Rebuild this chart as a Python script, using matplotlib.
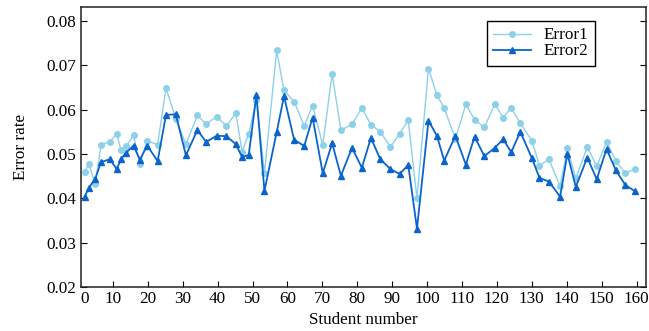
import matplotlib
matplotlib.use('Agg')
import matplotlib.pyplot as plt

# student positions along the x axis
student = [1.9, 3.1, 4.9, 6.6, 9.1, 11.1, 12.3, 13.8, 15.9, 17.7,
           19.8, 22.8, 25.2, 28.0, 30.9, 34.2, 36.7, 39.7, 42.5, 45.2,
           47.0, 48.9, 51.1, 53.4, 56.9, 59.0, 61.9, 64.8, 67.2, 70.1,
           72.8, 75.3, 78.5, 81.3, 83.9, 86.6, 89.5, 92.1, 94.6, 97.1,
           100.4, 102.8, 104.9, 108.1, 111.1, 113.6, 116.4, 119.4, 121.8, 124.1,
           126.7, 130.0, 132.2, 134.9, 138.1, 140.2, 142.6, 145.9, 148.6, 151.4,
           154.1, 156.8, 159.6]

error1 = [0.0460, 0.0477, 0.0433, 0.0520, 0.0528, 0.0545, 0.0508, 0.0517, 0.0542, 0.0478,
          0.0530, 0.0521, 0.0648, 0.0579, 0.0522, 0.0587, 0.0567, 0.0584, 0.0563, 0.0592,
          0.0505, 0.0545, 0.0621, 0.0457, 0.0733, 0.0643, 0.0618, 0.0563, 0.0609, 0.0520,
          0.0680, 0.0553, 0.0567, 0.0603, 0.0566, 0.0550, 0.0516, 0.0545, 0.0576, 0.0400,
          0.0692, 0.0633, 0.0603, 0.0534, 0.0612, 0.0577, 0.0560, 0.0612, 0.0582, 0.0604,
          0.0569, 0.0530, 0.0474, 0.0488, 0.0428, 0.0513, 0.0445, 0.0516, 0.0472, 0.0527,
          0.0484, 0.0457, 0.0466]

error2 = [0.0404, 0.0424, 0.0444, 0.0482, 0.0488, 0.0466, 0.0489, 0.0503, 0.0519, 0.0487,
          0.0519, 0.0484, 0.0588, 0.0589, 0.0497, 0.0554, 0.0527, 0.0541, 0.0540, 0.0522,
          0.0493, 0.0498, 0.0633, 0.0417, 0.0549, 0.0630, 0.0532, 0.0518, 0.0582, 0.0457,
          0.0524, 0.0451, 0.0514, 0.0469, 0.0536, 0.0488, 0.0466, 0.0455, 0.0475, 0.0332,
          0.0575, 0.0541, 0.0485, 0.0541, 0.0476, 0.0539, 0.0495, 0.0514, 0.0533, 0.0504,
          0.0550, 0.0491, 0.0446, 0.0438, 0.0404, 0.0500, 0.0426, 0.0492, 0.0443, 0.0511,
          0.0463, 0.0430, 0.0416]

xtick_pos = [1.95, 10, 20, 30, 40, 50, 60, 70, 80, 90, 100, 110, 120, 130, 140, 150, 160]
xtick_lab = ['0', '10', '20', '30', '40', '50', '60', '70', '80', '90',
             '100', '110', '120', '130', '140', '150', '160']
yticks = [0.02, 0.03, 0.04, 0.05, 0.06, 0.07, 0.08]

plt.rcParams['font.family'] = ['Liberation Serif', 'DejaVu Serif']
plt.rcParams['font.size'] = 12.3

fig = plt.figure(figsize=(6.49, 3.31), dpi=100)
ax = fig.add_axes([0.1243, 0.132, 0.871, 0.846])

ax.plot(student, error1, color='#8DD0EA', lw=1.0, marker='o', ms=4,
        mec='#8DD0EA', mfc='#8DD0EA', label='Error1')
ax.plot(student, error2, color='#0A64CC', lw=1.3, marker='^', ms=4.2,
        mec='#0A64CC', mfc='#0A64CC', label='Error2')

ax.set_xlim(0.75, 162.7)
ax.set_ylim(0.02, 0.083)
ax.set_xticks(xtick_pos)
ax.set_xticklabels(xtick_lab)
ax.set_yticks(yticks)
ax.set_yticklabels(['%.2f' % v for v in yticks])
ax.tick_params(direction='in', length=4, width=0.8, right=True, top=False, pad=3)
ax.xaxis.get_major_ticks()[0].tick1line.set_visible(False)
for s in ax.spines.values():
    s.set_linewidth(1.1)
    s.set_color('#222222')

ax.set_xlabel('Student number', labelpad=3)
ax.set_ylabel('Error rate', labelpad=13)

leg = ax.legend(loc='upper right', bbox_to_anchor=(0.9098, 0.951), borderaxespad=0,
                fancybox=False, edgecolor='black', framealpha=1, handlelength=2.2,
                labelspacing=0.0, borderpad=0.38, handletextpad=0.75)
leg.get_frame().set_linewidth(1.0)

fig.savefig('out.png', dpi=100)
